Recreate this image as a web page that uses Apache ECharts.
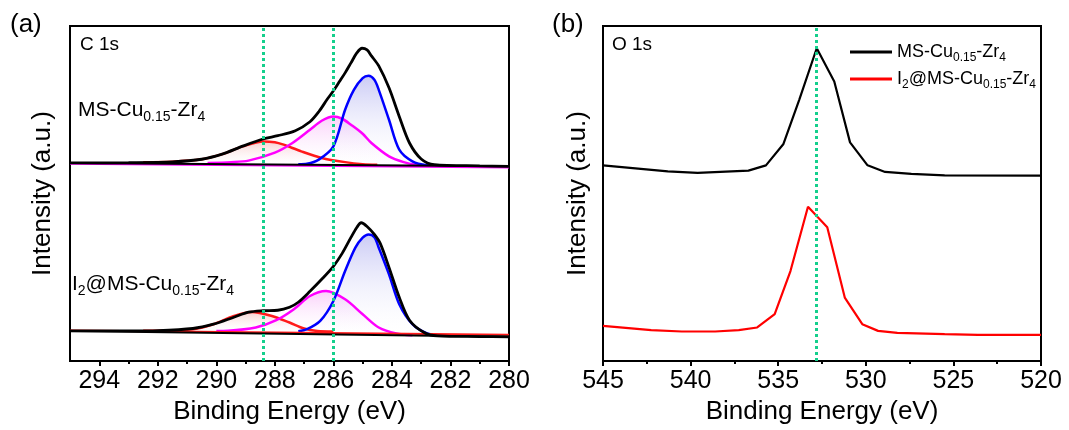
<!DOCTYPE html>
<html><head><meta charset="utf-8">
<script src="https://cdn.jsdelivr.net/npm/echarts@6.0.0/dist/echarts.min.js"></script>
<style>html,body{margin:0;padding:0;background:#fff}#c{width:1069px;height:430px}</style>
</head><body><div id="c"></div>
<script>
const FONT = '"Liberation Sans", Arial, sans-serif';

// ---- Panel (a): C 1s, [binding energy (eV), intensity (a.u.)] ----
const majorTicksA = [294, 292, 290, 288, 286, 284, 282, 280];
const minorTicksA = [293, 291, 289, 287, 285, 283, 281];
const guideLinesA = [288.4, 286.0];

const topEnvelope = [[295,198.7],[293,199],[291.5,199.8],[290.5,202.4],[289.8,207.5],[289.1,215.5],[288.4,222.7],[287.9,226],[287.3,231],[286.8,240],[286.5,250],[286.2,263],[286,271],[285.8,280],[285.6,289],[285.4,299],[285.2,309],[285.02,313.7],[284.85,312],[284.7,306],[284.45,296],[284.1,274],[283.75,245.3],[283.4,218.7],[283,202.7],[282.55,197],[281,195.8],[280,195.3]];
const topBlue = [[287.2,197.3],[286.9,197.8],[286.5,202],[286,215.3],[285.6,252],[285.3,272],[285,283.7],[284.8,286],[284.6,282],[284.45,272],[284.1,242],[283.75,212],[283.3,200.3],[282.8,196.3],[282.4,195.8]];
const topMagenta = [[290.3,198.7],[289.5,199.5],[288.9,201],[288,209],[287.4,218.7],[286.8,232],[286.4,241],[286,245.3],[285.7,243],[285.4,237],[285,228],[284.7,218.7],[284.1,205.3],[283.6,199.5],[283.2,197],[282.5,195.5]];
const topRed = [[292.5,199.5],[291.5,200],[290.5,202.3],[289.8,207.5],[289.1,215.3],[288.4,220.3],[288,219.5],[287.7,217],[287.1,210.3],[286.4,203.7],[285.6,199.5],[285,197.5],[284.5,197]];
const topBaseline = [[295,198.7],[280,195.3]];
const topBaselineMagenta = [[295,198],[280,194]];

const botEnvelope = [[295,30.3],[293,30.3],[292,30.6],[290.8,32.7],[290.1,37],[289.4,44],[288.9,49],[288.4,50.5],[287.9,51],[287.5,54],[287.2,59],[286.8,70],[286.4,82],[286,95],[285.7,108],[285.4,124],[285.2,134],[285.05,138.7],[284.85,135],[284.6,127],[284.4,118],[284.1,94],[283.75,64],[283.4,41],[282.9,28.7],[282.45,25.3],[281,24.6],[280,24.3]];
const botBlue = [[287.2,30],[286.9,32],[286.45,40.3],[286,60.3],[285.6,90.3],[285.25,113.7],[285,123.7],[284.8,127],[284.6,124.3],[284.45,113.7],[284.1,87],[283.75,57],[283.3,37],[282.8,27.7],[282.4,26]];
const botMagenta = [[290,30.3],[289.6,30.5],[288.65,33.7],[287.95,41],[287.35,52],[286.8,65.3],[286.25,70.3],[285.6,62],[285,47],[284.45,33.7],[283.85,27.7],[283.3,26]];
const botRed = [[292.5,30.5],[291.7,30.8],[290.8,32],[290.1,37],[289.4,45.3],[288.8,49.3],[288.1,45.3],[287.5,38.7],[287,32.7],[286.55,30.3],[286,29.8]];
const botBaseline = [[295,30.3],[280,24.3]];
const botBaselineRed = [[295,30.8],[280,26.5]];

// ---- Panel (b): O 1s ----
const majorTicksB = [545, 540, 535, 530, 525, 520];
const minorTicksB = [542.5, 537.5, 532.5, 527.5, 522.5];
const guideLinesB = [532.8];
const o1sPristine = [[545,196.3],[541.3,190.3],[539.6,188.7],[536.7,191],[535.7,196.3],[534.7,217.7],[533.8,262],[532.8,313.7],[531.8,280.3],[530.9,219.3],[529.9,196.3],[528.9,189.7],[527.4,187.7],[525.5,186.3],[520,186]];
const o1sIodine = [[545,35.3],[542.25,31],[540.5,29.7],[538.6,29.7],[537.25,31],[536.2,33.7],[535.2,47],[534.3,90.3],[533.3,154.7],[532.2,134.3],[531.2,63.7],[530.2,37],[529.3,30.3],[528.2,28.3],[525.5,27],[523.6,26.3],[520,26.3]];

const seriesNames = ['MS-Cu0.15-Zr4', 'I2@MS-Cu0.15-Zr4'];
const richLabels = {
  'MS-Cu0.15-Zr4': '{n|MS-Cu}{s|0.15}{n|-Zr}{s|4}',
  'I2@MS-Cu0.15-Zr4': '{n|I}{s|2}{n|@MS-Cu}{s|0.15}{n|-Zr}{s|4}'
};

function richSet(main, small, lh) {
  return {
    n: {fontSize: main, fontFamily: FONT, color: '#000', lineHeight: lh},
    s: {fontSize: small, fontFamily: FONT, color: '#000', lineHeight: small, verticalAlign: 'bottom'}
  };
}

function grad(c0) {
  return new echarts.graphic.LinearGradient(0, 0, 0, 1, [
    {offset: 0, color: c0}, {offset: 1, color: 'rgba(255,255,255,0.05)'}
  ]);
}

function comp(data, color, fill, origin, grid) {
  const s = {type: 'line', data: data, xAxisIndex: grid * 2, yAxisIndex: grid, smooth: 0.3,
    symbol: 'none', lineStyle: {color: color, width: 2.5}, itemStyle: {color: color}, silent: true, z: 3};
  if (fill) s.areaStyle = {color: grad(fill), origin: origin, opacity: 1};
  return s;
}
function plain(data, color, width, grid, smooth, z) {
  return {type: 'line', data: data, xAxisIndex: grid * 2, yAxisIndex: grid, smooth: smooth,
    symbol: 'none', lineStyle: {color: color, width: width}, itemStyle: {color: color}, silent: true, z: z || 4};
}

const guide = {silent: true, symbol: 'none', label: {show: false},
  lineStyle: {color: '#14cf8c', type: [3, 3], width: 3}};

function xAxisPair(grid, min, max, major, minor) {
  const common = {gridIndex: grid, type: 'value', min: min, max: max, inverse: true, position: 'bottom',
    splitLine: {show: false}};
  return [
    Object.assign({}, common, {
      name: 'Binding Energy (eV)', nameLocation: 'middle', nameGap: 36,
      nameTextStyle: {fontSize: 26, color: '#000', fontFamily: FONT},
      axisLine: {show: true, onZero: false, lineStyle: {color: '#000', width: 2}},
      axisTick: {show: true, inside: false, length: 5, customValues: major, lineStyle: {color: '#000', width: 2}},
      axisLabel: {show: true, customValues: major, fontSize: 25, color: '#000', fontFamily: FONT, margin: 8}
    }),
    Object.assign({}, common, {
      axisLine: {show: false},
      axisTick: {show: true, inside: false, length: 3, customValues: minor, lineStyle: {color: '#000', width: 2}},
      axisLabel: {show: false}
    })
  ];
}
function yAxisOf(grid, gap) {
  return {gridIndex: grid, type: 'value', min: 0, max: 336,
    name: 'Intensity (a.u.)', nameLocation: 'middle', nameGap: gap,
    nameTextStyle: {fontSize: 26, color: '#000', fontFamily: FONT},
    axisLine: {show: true, lineStyle: {color: '#000', width: 2}},
    axisTick: {show: false}, axisLabel: {show: false}, splitLine: {show: false}};
}

const option = {
  backgroundColor: '#fff',
  animation: false,
  grid: [
    {left: 70, top: 26, width: 439, height: 336, show: true, borderColor: '#000', borderWidth: 2, backgroundColor: 'transparent'},
    {left: 603, top: 26, width: 438, height: 336, show: true, borderColor: '#000', borderWidth: 2, backgroundColor: 'transparent'}
  ],
  xAxis: [].concat(xAxisPair(0, 280, 295, majorTicksA, minorTicksA), xAxisPair(1, 520, 545, majorTicksB, minorTicksB)),
  yAxis: [yAxisOf(0, 14), yAxisOf(1, 12)],
  legend: {
    left: 845, top: 38, orient: 'vertical', icon: 'rect', itemWidth: 42, itemHeight: 3, itemGap: 6,
    data: seriesNames,
    formatter: function (n) { return richLabels[n]; },
    textStyle: {rich: richSet(18, 12, 24)}
  },
  graphic: [
    {type: 'text', left: 10, top: 12, style: {text: '(a)', fontSize: 26, fontFamily: FONT, fill: '#000'}},
    {type: 'text', left: 552, top: 12, style: {text: '(b)', fontSize: 26, fontFamily: FONT, fill: '#000'}},
    {type: 'text', left: 80, top: 35, style: {text: 'C 1s', fontSize: 19, fontFamily: FONT, fill: '#000'}},
    {type: 'text', left: 612, top: 35, style: {text: 'O 1s', fontSize: 19, fontFamily: FONT, fill: '#000'}},
    {type: 'text', left: 78, top: 100, style: {text: richLabels['MS-Cu0.15-Zr4'], rich: richSet(21, 14, 28)}},
    {type: 'text', left: 72, top: 274, style: {text: richLabels['I2@MS-Cu0.15-Zr4'], rich: richSet(21, 14, 28)}}
  ],
  series: [
    comp(topRed, '#ff1a1a', 'rgba(240,150,150,0.45)', 197, 0),
    comp(topMagenta, '#ff00ff', 'rgba(245,160,245,0.5)', 196, 0),
    comp(topBlue, '#0000ff', 'rgba(150,150,235,0.5)', 196, 0),
    plain(topBaselineMagenta, '#ff00ff', 2, 0, false, 4),
    plain(topBaseline, '#000', 2, 0, false, 4),
    Object.assign(plain(topEnvelope, '#000', 2.8, 0, 0.3, 5), {markLine: Object.assign({}, guide, {data: guideLinesA.map(v => ({xAxis: v}))})}),
    comp(botRed, '#ff1a1a', 'rgba(240,150,150,0.45)', 29, 0),
    comp(botMagenta, '#ff00ff', 'rgba(245,160,245,0.5)', 28, 0),
    comp(botBlue, '#0000ff', 'rgba(150,150,235,0.5)', 27, 0),
    plain(botBaselineRed, '#ff1a1a', 2, 0, false, 4),
    plain(botBaseline, '#000', 2, 0, false, 4),
    plain(botEnvelope, '#000', 2.8, 0, 0.3, 5),
    Object.assign(plain(o1sPristine, '#000', 2.2, 1, false, 4), {name: seriesNames[0],
      markLine: Object.assign({}, guide, {data: guideLinesB.map(v => ({xAxis: v}))})}),
    Object.assign(plain(o1sIodine, '#ff0000', 2.2, 1, false, 4), {name: seriesNames[1]})
  ]
};
option.series.forEach(s => { if (s.markLine) s.markLine.z = 10; });

const chart = echarts.init(document.getElementById('c'));
chart.setOption(option);
</script>
</body></html>
